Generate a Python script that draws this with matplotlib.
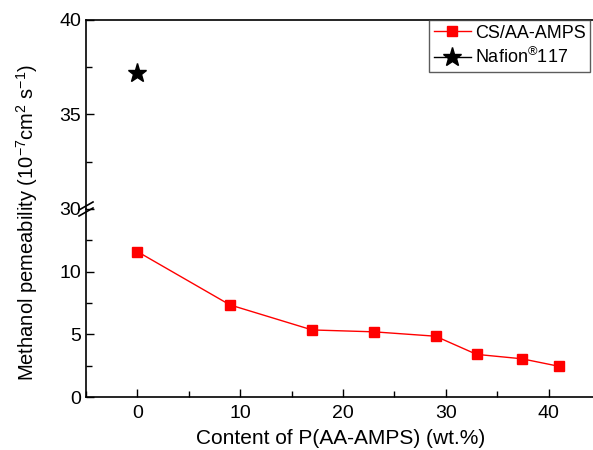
import matplotlib
matplotlib.use("Agg")
import matplotlib.pyplot as plt
from matplotlib.lines import Line2D
from matplotlib.ticker import MultipleLocator

plt.rcParams['font.family'] = ['Liberation Sans', 'DejaVu Sans']
plt.rcParams['mathtext.fontset'] = 'custom'
plt.rcParams['mathtext.rm'] = 'Liberation Sans'
plt.rcParams['mathtext.it'] = 'Liberation Sans:italic'
plt.rcParams['mathtext.bf'] = 'Liberation Sans:bold'

content = [0, 9, 17, 23, 29, 33, 37.4, 41]
permeability = [11.6, 7.35, 5.35, 5.2, 4.85, 3.4, 3.05, 2.45]
nafion_x = [0]
nafion_y = [37.2]

fig = plt.figure(figsize=(5.93, 4.5), dpi=100)
W, H = 593, 450
left = 86 / W
right = 600 / W
bottom = 1 - 397 / H
brk = 1 - 209 / H
top = 1 - 20 / H

ax_lo = fig.add_axes([left, bottom, right - left, brk - bottom])
ax_hi = fig.add_axes([left, brk, right - left, top - brk], sharex=ax_lo)

for ax in (ax_lo, ax_hi):
    ax.tick_params(direction='in', which='both', labelsize=14, width=1)
    ax.tick_params(which='major', length=6)
    ax.tick_params(which='minor', length=4)
    for s in ax.spines.values():
        s.set_linewidth(1.2)
    ax.patch.set_alpha(0)

ax_lo.spines['top'].set_visible(False)
ax_hi.spines['bottom'].set_visible(False)
ax_hi.tick_params(axis='x', which='both', bottom=False, labelbottom=False)
ax_lo.tick_params(axis='x', which='both', top=False)
ax_lo.tick_params(axis='y', right=False, which='both')
ax_hi.tick_params(axis='y', right=False, which='both')

ax_lo.set_xlim(-5, 45)
ax_lo.set_ylim(0, 15)
ax_hi.set_ylim(30, 40)
ax_lo.xaxis.set_major_locator(MultipleLocator(10))
ax_lo.xaxis.set_minor_locator(MultipleLocator(5))
ax_lo.set_yticks([0, 5, 10])
ax_lo.set_yticks([2.5, 7.5, 12.5], minor=True)
ax_hi.set_yticks([30, 35, 40])
ax_hi.set_yticks([32.5, 37.5], minor=True)
ax_lo.tick_params(axis='x', pad=6)

ax_lo.plot(content, permeability, color='#ff0000', lw=1.0, marker='s', ms=7,
           mfc='#ff0000', mec='#ff0000', clip_on=False, zorder=3)
ax_hi.plot(nafion_x, nafion_y, linestyle='none', color='black', marker='*', ms=14,
           clip_on=False, zorder=3)

# break marks
for dy in (-3, 3):
    yc = 209 + dy
    fig.add_artist(Line2D([79 / W, 93 / W], [1 - (yc + 4) / H, 1 - (yc - 4) / H],
                          color='black', lw=1.2, transform=fig.transFigure))

handles = [Line2D([], [], color='#ff0000', lw=1.0, marker='s', ms=7),
           Line2D([], [], color='black', lw=1.0, marker='*', ms=14)]
leg = fig.legend(handles, ['CS/AA-AMPS', 'Nafion$^{\\circledR}$117'],
                 loc='upper left', bbox_to_anchor=(429 / W, top), fontsize=13,
                 frameon=True, fancybox=False, edgecolor='#333333',
                 handlelength=2.1, handletextpad=0.2, borderpad=0.25,
                 labelspacing=0.3, borderaxespad=0)
leg.get_frame().set_linewidth(1.0)

fig.text(27 / W, 1 - 223 / H, 'Methanol pemeability (10$^{-7}$cm$^{2}$ s$^{-1}$)',
         rotation=90, ha='center', va='center', fontsize=14.5)
fig.text(341 / W, 1 - 438 / H, 'Content of P(AA-AMPS) (wt.%)',
         ha='center', va='center', fontsize=15)

fig.savefig('out.png', dpi=100)
